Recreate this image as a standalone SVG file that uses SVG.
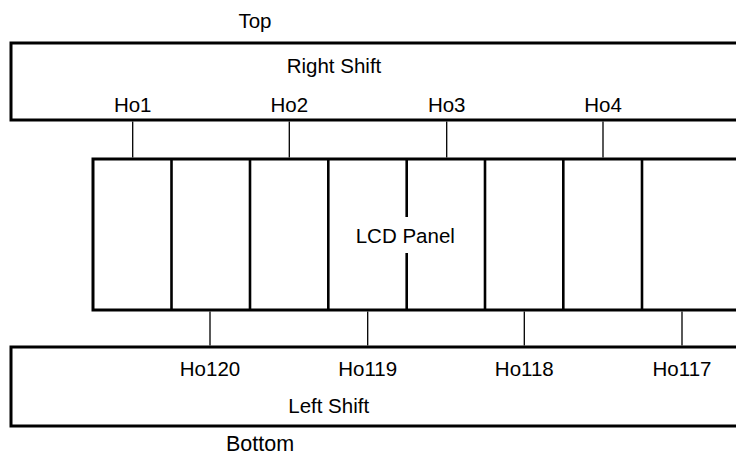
<svg xmlns="http://www.w3.org/2000/svg" width="736" height="456" viewBox="0 0 736 456">
  <style>
    .box { fill: #fff; stroke: #000; stroke-width: 3; }
    .div { stroke: #000; stroke-width: 2.6; fill: none; }
    .con { stroke: #000; stroke-width: 1.3; fill: none; }
    text { font-family: "Liberation Sans", Arial, sans-serif; font-size: 20.5px; fill: #000; text-anchor: middle; }
  </style>
  <rect width="736" height="456" fill="#fff"/>
  <text x="255" y="28">Top</text>
  <text x="260" y="451" style="font-size:21.5px">Bottom</text>
  <g id="right-shift">
    <rect class="box" x="11" y="43" width="740" height="77"/>
    <text x="334" y="73">Right Shift</text>
    <text x="132.7" y="112">Ho1</text>
    <text x="289.3" y="112">Ho2</text>
    <text x="446.7" y="112">Ho3</text>
    <text x="603" y="112">Ho4</text>
  </g>
  <g id="lcd-panel">
    <rect class="box" x="93" y="159" width="700" height="151"/>
    <path class="div" d="M171.5 159V310M250 159V310M328.3 159V310M406.7 159V217M406.7 253V310M485 159V310M563.3 159V310M642 159V310"/>
    <text x="405.3" y="243">LCD Panel</text>
  </g>
  <g id="left-shift">
    <rect class="box" x="11" y="347" width="740" height="79"/>
    <text x="210" y="376">Ho120</text>
    <text x="367.7" y="376">Ho119</text>
    <text x="524.3" y="376">Ho118</text>
    <text x="682" y="376">Ho117</text>
    <text x="328.7" y="413">Left Shift</text>
  </g>
  <g id="connectors">
    <path class="con" d="M132.7 121.5V157.5M289.3 121.5V157.5M446.7 121.5V157.5M603 121.5V157.5"/>
    <path class="con" d="M210 311.5V345.5M367.7 311.5V345.5M524.3 311.5V345.5M682 311.5V345.5"/>
  </g>
</svg>
